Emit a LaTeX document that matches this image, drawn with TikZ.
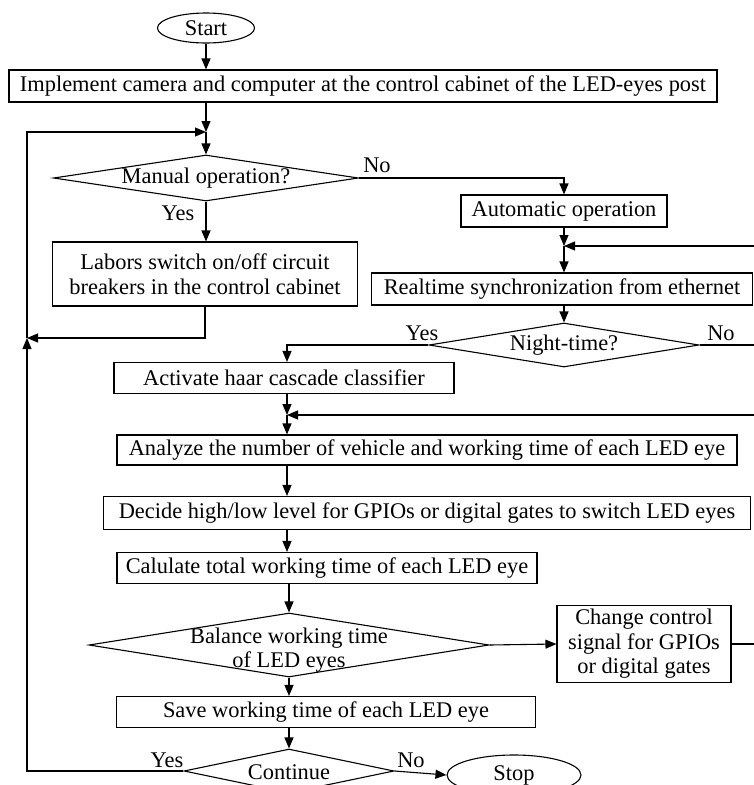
\documentclass[tikz,border=0pt]{standalone}
\usepackage{fontspec}
\setmainfont{Liberation Serif}
\usetikzlibrary{shapes.geometric,arrows.meta,calc}
\begin{document}
\begin{tikzpicture}[x=1pt,y=-1pt, line width=1.1pt,
  every node/.style={font={\fontsize{22.4}{24.5}\selectfont}},
  box/.style={draw, rectangle, inner sep=0pt, align=center},
  dia/.style={draw, diamond, inner sep=0pt},
  term/.style={draw, ellipse, inner sep=0pt},
  lbl/.style={inner sep=0pt},
  arr/.style={-{Triangle[length=11pt,width=9pt]}}]
\fill[white] (0,0) rectangle (754,785);
\useasboundingbox (0,0) rectangle (754,785);

% nodes
\node[term, minimum width=97pt, minimum height=30pt] (start) at (206,28) {Start};
\node[box, minimum width=708pt, minimum height=32pt] (impl) at (363,86) {Implement camera and computer at the control cabinet of the LED-eyes post};
\coordinate (m1) at (206,132);
\node[dia, minimum width=305pt, minimum height=46pt] (man) at (206,178) {};
\node[lbl] (mant) at (man) {Manual operation?};
\node[box, minimum width=206pt, minimum height=32pt] (auto) at (564,211) {Automatic operation};
\node[box, minimum width=305pt, minimum height=64pt] (lab) at (205,274) {Labors switch on/off circuit\\breakers in the control cabinet};
\coordinate (m2) at (564,246);
\node[box, minimum width=381pt, minimum height=32pt] (rt) at (562,289) {Realtime synchronization from ethernet};
\node[dia, minimum width=270pt, minimum height=44pt] (night) at (564,345) {};
\node[lbl] (nightt) at (night) {Night-time?};
\node[box, minimum width=340pt, minimum height=31pt] (act) at (284,378) {Activate haar cascade classifier};
\coordinate (m3) at (287,415);
\node[box, minimum width=620pt, minimum height=30pt] (ana) at (427,450) {Analyze the number of vehicle and working time of each LED eye};
\node[box, minimum width=647pt, minimum height=33pt] (dec) at (427,513) {Decide high/low level for GPIOs or digital gates to switch LED eyes};
\node[box, minimum width=420pt, minimum height=31pt] (cal) at (327,568) {Calulate total working time of each LED eye};
\node[dia, minimum width=400pt, minimum height=64pt] (bal) at (289,645) {};
\node[lbl, align=center] (balt) at (289,650) {Balance working time\\of LED eyes};
\node[box, minimum width=174pt, minimum height=77pt] (chg) at (644,644) {Change control\\signal for GPIOs\\or digital gates};
\node[box, minimum width=419pt, minimum height=31pt] (save) at (326,712) {Save working time of each LED eye};
\node[dia, minimum width=210pt, minimum height=44pt] (cont) at (289,771) {};
\node[lbl] (contt) at (289,772) {Continue};
\node[term, minimum width=134pt, minimum height=40pt] (stop) at (514,775) {Stop};

% labels
\node[lbl] (no1) at (377,165) {No};
\node[lbl] (yes1) at (178,213) {Yes};
\node[lbl] (yes2) at (422,333) {Yes};
\node[lbl] (no2) at (721,333) {No};
\node[lbl] (yes3) at (167,760) {Yes};
\node[lbl] (no3) at (411,760) {No};

% connectors
\coordinate (L1) at (27,338);
\draw[arr] (start.south) -- (start.south |- impl.north);
\draw[arr] (impl.south -| m1) -- (m1);
\draw[arr] (m1) -- (man.north);
\draw[arr] (man.east) -| (auto.north);
\draw[arr] (man.south) -- (man.south |- lab.north);
\draw[arr] (auto.south) -- (m2);
\draw[arr] (m2) -- (m2 |- rt.north);
\draw[arr] (rt.south -| night.north) -- (night.north);
\draw[arr] (night.east) -- ++(60,0) |- (m2);
\draw[arr] (night.west) -| (act.north -| m3);
\draw[arr] (act.south -| m3) -- (m3);
\draw[arr] (m3) -- (m3 |- ana.north);
\draw[arr] (ana.south -| m3) -- (m3 |- dec.north);
\draw[arr] (dec.south -| m3) -- (m3 |- cal.north);
\draw[arr] (cal.south -| bal.north) -- (bal.north);
\draw[arr] (bal.east) -- (chg.west);
\draw[arr] (chg.east) -- ++(50,0) |- (m3);
\draw[arr] (bal.south) -- (bal.south |- save.north);
\draw[arr] (save.south -| cont.north) -- (cont.north);
\draw[arr] (cont.east) -- (stop.west);
\draw[arr] (cont.west) -| (L1);
\draw[arr] (L1) |- (m1);
\draw[arr] (lab.south) |- (L1);
\end{tikzpicture}
\end{document}
